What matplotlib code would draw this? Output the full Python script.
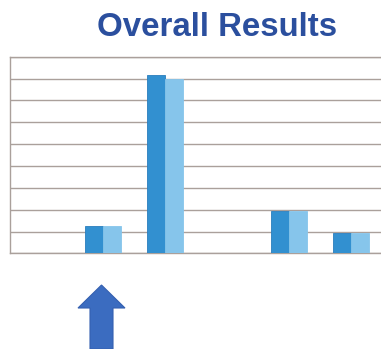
import numpy as np
import matplotlib.pyplot as plt
from matplotlib.patches import Polygon

categories = ['A', 'B', 'C', 'D', 'E', 'F']
series1 = [0, 1.25, 8.15, 0, 1.92, 0.94]
series2 = [0, 1.25, 7.96, 0, 1.92, 0.92]

fig = plt.figure(figsize=(3.81, 3.49), dpi=100)
fig.patch.set_facecolor('white')

ax = fig.add_axes([10 / 381, 0.274, 1 - 10 / 381, 0.5635])
X = np.arange(len(categories))
w = 0.29
ax.bar(X - w / 2, series1, width=w, color='#3290d0', edgecolor='#2a7dbd', linewidth=0.6, zorder=3)
ax.bar(X + w / 2, series2, width=w, color='#86c5eb', edgecolor='#86c5eb', linewidth=0.6, zorder=3)

ax.set_xlim(-0.5, 5.48)
ax.set_ylim(0, 9)
ax.set_yticks(np.arange(0, 10, 1))
ax.set_xticks([])
ax.tick_params(axis='y', length=0, labelleft=False)
ax.grid(axis='y', color='#aaa09b', linewidth=1.0, zorder=0)
for side in ['left', 'bottom', 'top']:
    ax.spines[side].set_color('#aaa09b')
    ax.spines[side].set_linewidth(1.0)
ax.spines['right'].set_visible(False)

fig.text(0.571, 0.897, 'Overall Results', ha='center', va='baseline',
         fontsize=23.8, fontweight='bold', color='#2b4f9e', family='Liberation Sans')

# arrow pointing up at the second group
W, H = 381, 349
pts = [(90, 349), (90, 308), (78, 308), (101.5, 285), (125, 308), (113, 308), (113, 349)]
arrow = Polygon([(x / W, 1 - y / H) for x, y in pts], closed=True,
                transform=fig.transFigure, facecolor='#3b6cc0', edgecolor='#3560b0', linewidth=0.8)
fig.patches.append(arrow)

plt.savefig('out.png', dpi=100)
